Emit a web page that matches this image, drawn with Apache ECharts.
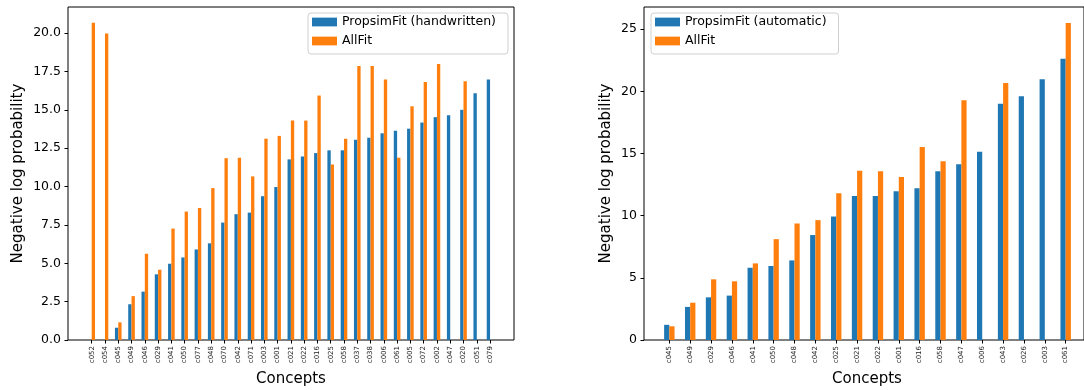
<!DOCTYPE html>
<html>
<head>
<meta charset="utf-8">
<script src="https://cdn.jsdelivr.net/npm/echarts@6/dist/echarts.min.js"></script>
<style>
html,body{margin:0;padding:0;background:#fff;}
#c{width:1084px;height:390px;}
</style>
</head>
<body>
<div id="c"></div>
<script>
// ---- Data ----
const leftCategories = ['c052','c054','c045','c049','c046','c029','c041','c050','c077','c048','c070','c042','c071','c003','c001','c021','c022','c016','c025','c058','c037','c038','c006','c061','c005','c072','c002','c047','c020','c051','c079'];
const leftPropsim = [0,0,0.8,2.33,3.15,4.28,4.97,5.38,5.9,6.3,7.65,8.2,8.3,9.37,9.97,11.77,11.95,12.18,12.36,12.36,13.05,13.18,13.47,13.64,13.77,14.17,14.52,14.65,15.0,16.08,16.98];
const leftAllFit = [20.67,19.98,1.15,2.86,5.62,4.58,7.26,8.37,8.6,9.9,11.85,11.88,10.66,13.12,13.3,14.3,14.3,15.93,11.43,13.12,17.86,17.86,16.97,11.88,15.23,16.82,17.99,0,16.86,0,0];
const leftYTicks = [0,2.5,5,7.5,10,12.5,15,17.5,20];

const rightCategories = ['c045','c049','c029','c046','c041','c050','c048','c042','c025','c021','c022','c001','c016','c058','c047','c006','c043','c026','c003','c061'];
const rightPropsim = [1.22,2.66,3.43,3.57,5.81,5.95,6.4,8.44,9.93,11.59,11.59,11.96,12.2,13.57,14.13,15.14,19.0,19.6,20.97,22.62];
const rightAllFit = [1.1,3.0,4.88,4.72,6.16,8.11,9.37,9.64,11.8,13.62,13.57,13.11,15.52,14.37,19.28,0,20.67,0,0,25.5];
const rightYTicks = [0,5,10,15,20,25];

const leftNames = ['PropsimFit (handwritten)','AllFit'];
const rightNames = ['PropsimFit (automatic)','AllFit'];

// ---- Layout ----
const W = 1084, H = 390;
const FONT = 'DejaVu Sans';
const BLUE = '#1f77b4', ORANGE = '#ff7f0e';
const plotTop = 7, plotBottomY = 340;
const plotH = plotBottomY - plotTop;
const leftMax = 21.7, rightMax = 26.78;

function frameGrid(l, r){ return {left:l, right:r, top:plotTop, bottom:H-plotBottomY, show:true, borderColor:'#000', borderWidth:1, backgroundColor:'transparent', containLabel:false}; }

const grids = [
  frameGrid(68, W-514),
  {left:68, right:W-514, top: plotBottomY - leftYTicks[leftYTicks.length-1]*plotH/leftMax, bottom:H-plotBottomY},
  {left:85.06, right:W-496.7, top:plotTop, bottom:H-plotBottomY},
  frameGrid(644, -7),
  {left:644, right:-7, top: plotBottomY - rightYTicks[rightYTicks.length-1]*plotH/rightMax, bottom:H-plotBottomY},
  {left:658.9, right:W-1076.1, top:plotTop, bottom:H-plotBottomY}
];

function hiddenValueAxis(gi, max){ return {type:'value', gridIndex:gi, min:0, max:max, show:false}; }

function tickYAxis(gi, ticks, step, dec){
  return {type:'value', gridIndex:gi, min:0, max:ticks[ticks.length-1], interval:step,
    axisLine:{show:false}, splitLine:{show:false},
    axisTick:{show:true, length:3.5, lineStyle:{color:'#000', width:1}},
    axisLabel:{show:true, margin:7, color:'#000', fontFamily:FONT, fontSize:12.5,
      formatter: v => v.toFixed(dec)}};
}

function catXAxis(gi, cats){
  return {type:'category', gridIndex:gi, data:cats, boundaryGap:true,
    axisLine:{show:false}, splitLine:{show:false},
    axisTick:{show:true, alignWithLabel:true, length:3.5, lineStyle:{color:'#000', width:1}},
    axisLabel:{show:true, interval:0, rotate:90, margin:6, color:'#222', fontFamily:FONT, fontSize:7}};
}

const xAxes = [
  {type:'value', gridIndex:0, show:false, min:0, max:1},
  {type:'value', gridIndex:1, show:false, min:0, max:1},
  catXAxis(2, leftCategories),
  {type:'value', gridIndex:3, show:false, min:0, max:1},
  {type:'value', gridIndex:4, show:false, min:0, max:1},
  catXAxis(5, rightCategories)
];
const yAxes = [
  hiddenValueAxis(0, leftMax),
  tickYAxis(1, leftYTicks, 2.5, 1),
  hiddenValueAxis(2, leftMax),
  hiddenValueAxis(3, rightMax),
  tickYAxis(4, rightYTicks, 5, 0),
  hiddenValueAxis(5, rightMax)
];

function bar(name, data, color, axisIdx){
  return {type:'bar', name:name, data:data, xAxisIndex:axisIdx, yAxisIndex:axisIdx,
    barWidth:'25%', barGap:'0%', itemStyle:{color:color}, animation:false,
    emphasis:{disabled:true}, silent:true};
}

const series = [
  bar(leftNames[0], leftPropsim, BLUE, 2),
  bar(leftNames[1], leftAllFit, ORANGE, 2),
  bar(rightNames[0], rightPropsim, BLUE, 5),
  bar(rightNames[1], rightAllFit, ORANGE, 5)
];

function legend(left, names){
  return {orient:'vertical', left:left, top:13, data:names.map(n=>({name:n, icon:'rect'})),
    itemWidth:25, itemHeight:8.75, itemGap:5, padding:[2,12,6,4],
    borderColor:'#d0d0d0', borderWidth:1, borderRadius:3, backgroundColor:'rgba(255,255,255,0.8)',
    selectedMode:false,
    textStyle:{fontFamily:FONT, fontSize:12.5, color:'#000', lineHeight:14}};
}

function label(text, x, y, rot){
  return {type:'text', x:x, y:y, rotation:rot, silent:true,
    style:{text:text, fill:'#000', font:'15px "DejaVu Sans"', textAlign:'center', textVerticalAlign:'middle'}};
}

const chart = echarts.init(document.getElementById('c'), null, {renderer:'canvas'});
chart.setOption({
  backgroundColor:'#fff',
  animation:false,
  grid:grids,
  xAxis:xAxes,
  yAxis:yAxes,
  series:series,
  legend:[legend(308, leftNames), legend(651, rightNames)],
  graphic:[
    label('Negative log probability', 18, 173.5, Math.PI/2),
    label('Negative log probability', 606, 173.5, Math.PI/2),
    label('Concepts', 291, 379, 0),
    label('Concepts', 867, 379, 0)
  ]
});
</script>
</body>
</html>
